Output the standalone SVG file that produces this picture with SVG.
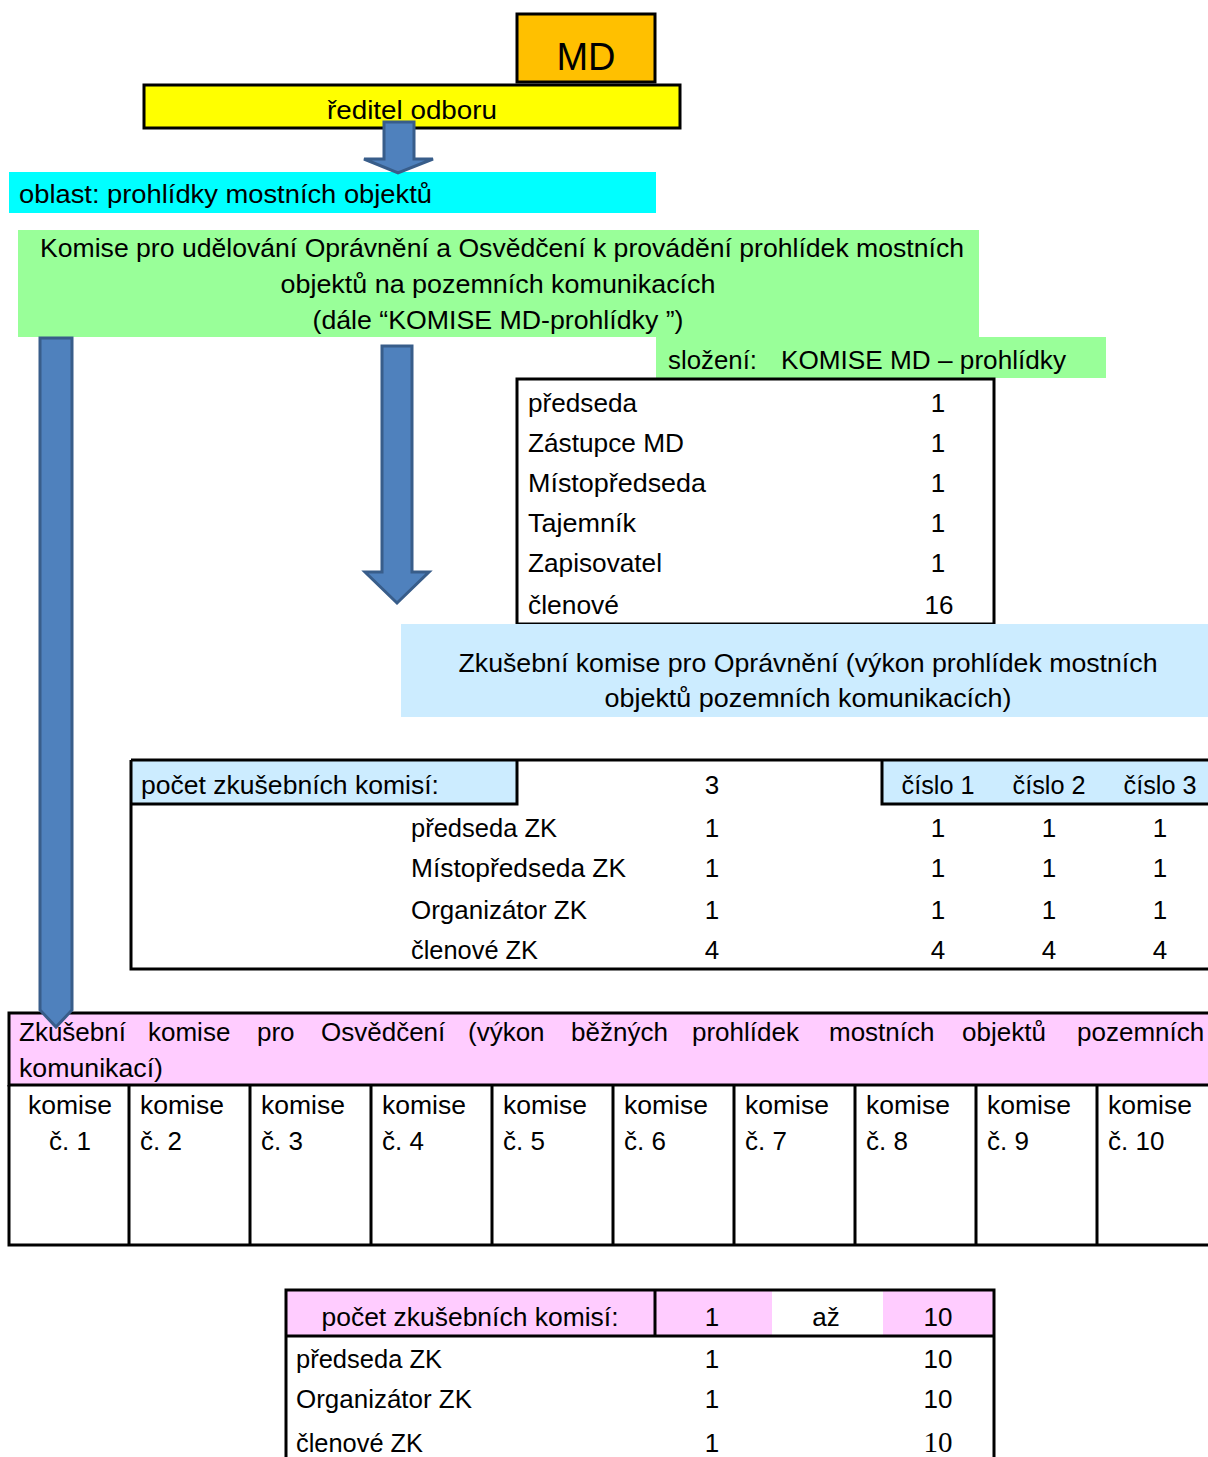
<svg xmlns="http://www.w3.org/2000/svg" width="1208" height="1457" viewBox="0 0 1208 1457">
<defs>
<style>
text{font-family:"Liberation Sans",Arial,sans-serif;font-size:26px;fill:#000}
.c{text-anchor:middle}
.box{stroke:#000;stroke-width:3}
.ln{stroke:#000;stroke-width:3;fill:none}
.arrow{fill:#4F81BD;stroke:#385D8A;stroke-width:3;stroke-linejoin:miter}
.serif{font-family:"Liberation Serif","Times New Roman",serif;font-size:29px}
</style>
</defs>
<rect width="1208" height="1457" fill="#fff"/>

<g id="md">
<rect class="box" x="517" y="14" width="138" height="68" fill="#FFC000"/>
<text class="c" x="586" y="70" style="font-size:38px">MD</text>
</g>

<g id="reditel">
<rect class="box" x="144" y="85" width="536" height="43" fill="#FFFF00"/>
<text class="c" x="412" y="119" textLength="170" lengthAdjust="spacingAndGlyphs">ředitel odboru</text>
</g>

<g id="oblast">
<rect x="9" y="172" width="647" height="41" fill="#00FFFF"/>
<text x="19" y="203" textLength="413" lengthAdjust="spacingAndGlyphs">oblast: prohlídky mostních objektů</text>
</g>

<g id="komise-md">
<rect x="18" y="230" width="961" height="107" fill="#99FF99"/>
<text class="c" x="502" y="257" textLength="924" lengthAdjust="spacingAndGlyphs">Komise pro udělování Oprávnění a Osvědčení k provádění prohlídek mostních</text>
<text class="c" x="498" y="293" textLength="435" lengthAdjust="spacingAndGlyphs">objektů na pozemních komunikacích</text>
<text class="c" x="498" y="329" textLength="371" lengthAdjust="spacingAndGlyphs">(dále “KOMISE MD-prohlídky ”)</text>
</g>

<g id="slozeni">
<rect x="656" y="337" width="450" height="41" fill="#99FF99"/>
<text x="668" y="369" textLength="89" lengthAdjust="spacingAndGlyphs">složení:</text>
<text x="781" y="369" textLength="285" lengthAdjust="spacingAndGlyphs">KOMISE MD – prohlídky</text>
</g>

<g id="slozeni-tabulka">
<rect class="box" x="517" y="379" width="477" height="245" fill="#fff"/>
<text x="528" y="412" textLength="109" lengthAdjust="spacingAndGlyphs">předseda</text>
<text x="528" y="452" textLength="156" lengthAdjust="spacingAndGlyphs">Zástupce MD</text>
<text x="528" y="492" textLength="178" lengthAdjust="spacingAndGlyphs">Místopředseda</text>
<text x="528" y="532" textLength="108" lengthAdjust="spacingAndGlyphs">Tajemník</text>
<text x="528" y="572" textLength="134" lengthAdjust="spacingAndGlyphs">Zapisovatel</text>
<text x="528" y="614" textLength="91" lengthAdjust="spacingAndGlyphs">členové</text>
<text class="c" x="938" y="412">1</text>
<text class="c" x="938" y="452">1</text>
<text class="c" x="938" y="492">1</text>
<text class="c" x="938" y="532">1</text>
<text class="c" x="938" y="572">1</text>
<text class="c" x="939" y="614">16</text>
</g>

<g id="zk-opravneni">
<rect x="401" y="624" width="807" height="93" fill="#CCECFF"/>
<text class="c" x="808" y="672" textLength="699" lengthAdjust="spacingAndGlyphs">Zkušební komise pro Oprávnění (výkon prohlídek mostních</text>
<text class="c" x="808" y="707" textLength="407" lengthAdjust="spacingAndGlyphs">objektů pozemních komunikacích)</text>
</g>

<g id="zk-opravneni-tabulka">
<rect x="131" y="760" width="386" height="44" fill="#CCECFF"/>
<rect x="882" y="760" width="328" height="44" fill="#CCECFF"/>
<path class="ln" d="M131,760 H1210 M131,760 V969 H1210 M131,804 H517 V760 M882,760 V804 H1210"/>
<text x="141" y="794" textLength="298" lengthAdjust="spacingAndGlyphs">počet zkušebních komisí:</text>
<text class="c" x="712" y="794">3</text>
<text class="c" x="938" y="794" textLength="73" lengthAdjust="spacingAndGlyphs">číslo 1</text>
<text class="c" x="1049" y="794" textLength="73" lengthAdjust="spacingAndGlyphs">číslo 2</text>
<text class="c" x="1160" y="794" textLength="73" lengthAdjust="spacingAndGlyphs">číslo 3</text>
<text x="411" y="837" textLength="146" lengthAdjust="spacingAndGlyphs">předseda ZK</text>
<text x="411" y="877" textLength="215" lengthAdjust="spacingAndGlyphs">Místopředseda ZK</text>
<text x="411" y="919" textLength="176" lengthAdjust="spacingAndGlyphs">Organizátor ZK</text>
<text x="411" y="959" textLength="127" lengthAdjust="spacingAndGlyphs">členové ZK</text>
<g class="c">
<text class="c" x="712" y="837">1</text><text class="c" x="938" y="837">1</text><text class="c" x="1049" y="837">1</text><text class="c" x="1160" y="837">1</text>
<text class="c" x="712" y="877">1</text><text class="c" x="938" y="877">1</text><text class="c" x="1049" y="877">1</text><text class="c" x="1160" y="877">1</text>
<text class="c" x="712" y="919">1</text><text class="c" x="938" y="919">1</text><text class="c" x="1049" y="919">1</text><text class="c" x="1160" y="919">1</text>
<text class="c" x="712" y="959">4</text><text class="c" x="938" y="959">4</text><text class="c" x="1049" y="959">4</text><text class="c" x="1160" y="959">4</text>
</g>
</g>

<g id="zk-osvedceni">
<rect class="box" x="9" y="1013" width="1202" height="72" fill="#FFCCFF"/>
<text y="1041">
<tspan x="19">Zkušební</tspan><tspan x="148">komise</tspan><tspan x="257">pro</tspan><tspan x="321">Osvědčení</tspan><tspan x="468">(výkon</tspan><tspan x="571">běžných</tspan><tspan x="692">prohlídek</tspan><tspan x="829">mostních</tspan><tspan x="962">objektů</tspan><tspan x="1077">pozemních</tspan>
</text>
<text x="19" y="1077" textLength="144" lengthAdjust="spacingAndGlyphs">komunikací)</text>
</g>

<g id="komise-bunky">
<path class="ln" d="M9,1085 V1245 H1210 M129,1085 V1245 M250,1085 V1245 M371,1085 V1245 M492,1085 V1245 M613,1085 V1245 M734,1085 V1245 M855,1085 V1245 M976,1085 V1245 M1097,1085 V1245"/>
<text class="c" x="70" y="1114" textLength="84" lengthAdjust="spacingAndGlyphs">komise</text>
<text class="c" x="70" y="1150">č. 1</text>
<text x="140" y="1114" textLength="84" lengthAdjust="spacingAndGlyphs">komise</text><text x="140" y="1150">č. 2</text>
<text x="261" y="1114" textLength="84" lengthAdjust="spacingAndGlyphs">komise</text><text x="261" y="1150">č. 3</text>
<text x="382" y="1114" textLength="84" lengthAdjust="spacingAndGlyphs">komise</text><text x="382" y="1150">č. 4</text>
<text x="503" y="1114" textLength="84" lengthAdjust="spacingAndGlyphs">komise</text><text x="503" y="1150">č. 5</text>
<text x="624" y="1114" textLength="84" lengthAdjust="spacingAndGlyphs">komise</text><text x="624" y="1150">č. 6</text>
<text x="745" y="1114" textLength="84" lengthAdjust="spacingAndGlyphs">komise</text><text x="745" y="1150">č. 7</text>
<text x="866" y="1114" textLength="84" lengthAdjust="spacingAndGlyphs">komise</text><text x="866" y="1150">č. 8</text>
<text x="987" y="1114" textLength="84" lengthAdjust="spacingAndGlyphs">komise</text><text x="987" y="1150">č. 9</text>
<text x="1108" y="1114" textLength="84" lengthAdjust="spacingAndGlyphs">komise</text><text x="1108" y="1150">č. 10</text>
</g>

<g id="zk-osvedceni-tabulka">
<rect x="286" y="1290" width="486" height="46" fill="#FFCCFF"/>
<rect x="883" y="1290" width="111" height="46" fill="#FFCCFF"/>
<path class="ln" d="M286,1460 V1290 H994 V1460 M286,1336 H994 M655,1290 V1336"/>
<text class="c" x="470" y="1326" textLength="297" lengthAdjust="spacingAndGlyphs">počet zkušebních komisí:</text>
<text class="c" x="712" y="1326">1</text>
<text class="c" x="826" y="1326">až</text>
<text class="c" x="938" y="1326">10</text>
<text x="296" y="1368" textLength="146" lengthAdjust="spacingAndGlyphs">předseda ZK</text>
<text x="296" y="1408" textLength="176" lengthAdjust="spacingAndGlyphs">Organizátor ZK</text>
<text x="296" y="1452" textLength="127" lengthAdjust="spacingAndGlyphs">členové ZK</text>
<text class="c" x="712" y="1368">1</text><text class="c" x="938" y="1368">10</text>
<text class="c" x="712" y="1408">1</text><text class="c" x="938" y="1408">10</text>
<text class="c" x="712" y="1452">1</text><text class="c serif" x="938" y="1452">10</text>
</g>

<g id="connectors">
<path class="arrow" d="M384,122 H414 V159 H433 L398,173 L364,159 H384 Z"/>
<path class="arrow" d="M40,338 H72 V1010 L56,1027 L40,1010 Z"/>
<path class="arrow" d="M382,346 H412 V572 H429 L397,603 L365,572 H382 Z"/>
</g>
</svg>
